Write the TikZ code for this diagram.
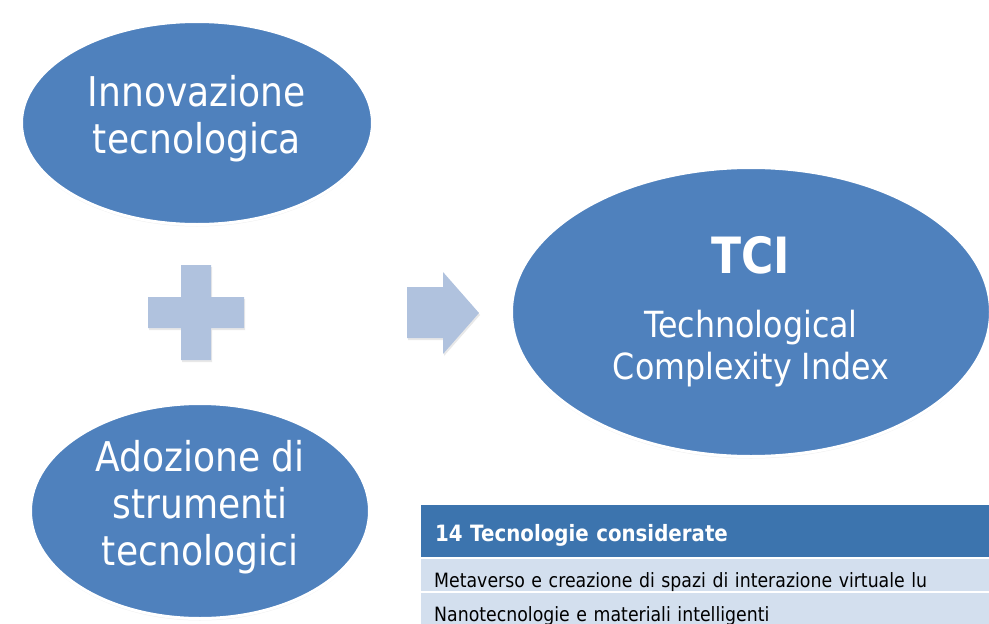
\documentclass[tikz,border=0pt]{standalone}
\usepackage{fontspec}
\setmainfont{DejaVu Sans}[FakeStretch=0.88]
\usetikzlibrary{shapes.geometric,shadows}
\definecolor{ovalblue}{HTML}{4F81BD}
\definecolor{paleblue}{HTML}{B0C2DE}
\definecolor{headblue}{HTML}{3C74AE}
\definecolor{rowblue}{HTML}{D3DFEE}
\begin{document}
\begin{tikzpicture}[x=1pt,y=-1pt,
    oval/.style={ellipse,fill=ovalblue,draw=white,line width=3pt,text=white,align=center,inner sep=0pt,
        drop shadow={opacity=0.12,shadow xshift=0pt,shadow yshift=-2pt}},
    sign/.style={fill=paleblue,drop shadow={opacity=0.18,shadow xshift=1pt,shadow yshift=-2pt}},
    headcell/.style={fill=headblue,text=white,anchor=north west,minimum height=52pt,text width=560pt,
        inner xsep=14pt,text height=20pt,text depth=0pt,align=left,font=\fontsize{22.5}{26}\selectfont\bfseries},
    rowcell/.style={fill=rowblue,anchor=north west,minimum height=32pt,text width=560pt,
        inner xsep=13pt,text height=24pt,text depth=0pt,align=left,font=\fontsize{19.7}{22}\selectfont}]
    \useasboundingbox (0,0) rectangle (989,624);
    % the three ovals
    \node[oval,minimum width=351pt,minimum height=203pt,font=\fontsize{41}{47}\selectfont] (innov) at (197,123)
        {Innovazione\\tecnologica\rule[-18pt]{0pt}{0pt}};
    \node[oval,minimum width=339pt,minimum height=215pt,font=\fontsize{41}{47}\selectfont] (adopt) at (200,511)
        {Adozione di\\strumenti\\tecnologici\rule[-16pt]{0pt}{0pt}};
    \node[oval,minimum width=479pt,minimum height=289pt,font=\fontsize{36}{42}\selectfont] (tci) at (751,312)
        {{\fontsize{50}{50}\selectfont\bfseries TCI}\\[22pt]Technological\\Complexity Index};
    % plus and arrow
    \fill[sign] (181,265) -- (211,265) -- (211,297) -- (244,297) -- (244,328) -- (211,328) -- (211,360)
        -- (181,360) -- (181,328) -- (148,328) -- (148,297) -- (181,297) -- cycle;
    \fill[sign] (407,287) -- (443,287) -- (443,272) -- (479,313) -- (443,354) -- (443,338) -- (407,338) -- cycle;
    % table
    \node[headcell] (head) at (421,505) {14 Tecnologie considerate};
    \node[rowcell] (row1) at (421,559) {Metaverso e creazione di spazi di interazione virtuale lu};
    \node[rowcell] (row2) at (421,593) {Nanotecnologie e materiali intelligenti};
\end{tikzpicture}
\end{document}
